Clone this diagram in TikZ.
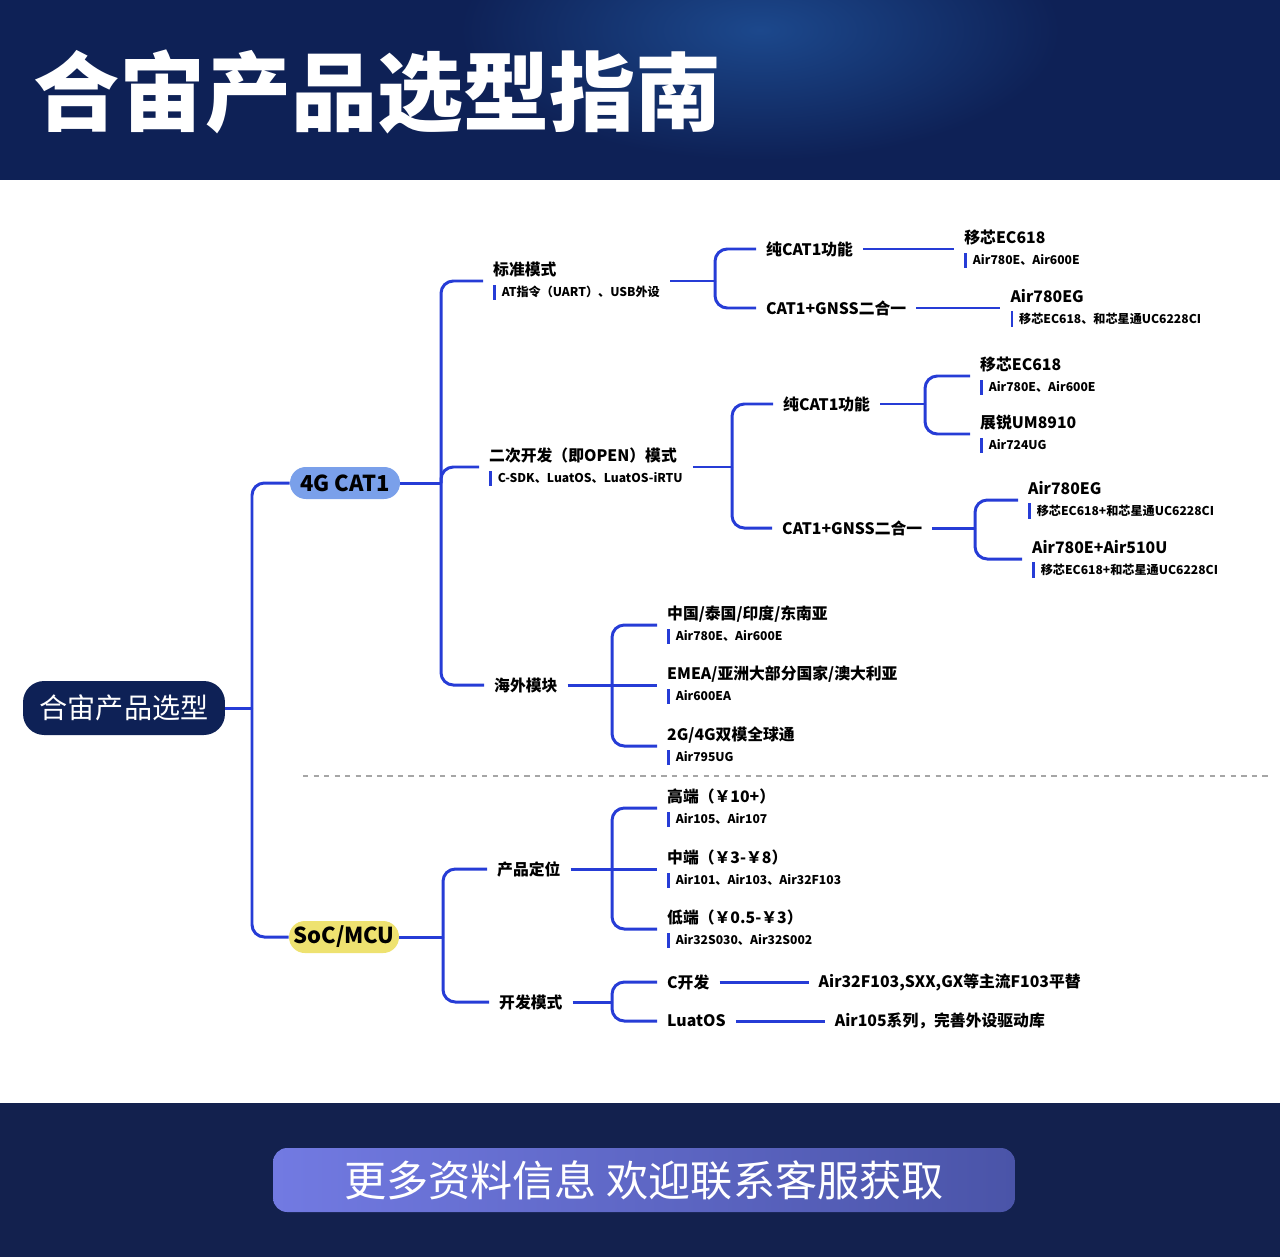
\documentclass[tikz,border=0pt]{standalone}
\usepackage{fontspec}
\setmainfont{Noto Sans CJK SC}
\usepackage{xcolor}
\usetikzlibrary{positioning}

\definecolor{navy}{RGB}{14,33,86}
\definecolor{glow}{RGB}{28,72,140}
\definecolor{footnavy}{RGB}{19,33,78}
\definecolor{linkblue}{RGB}{38,60,214}
\definecolor{catblue}{RGB}{122,160,234}
\definecolor{socyellow}{RGB}{238,226,112}
\definecolor{btnleft}{RGB}{114,122,226}
\definecolor{btnright}{RGB}{74,84,168}

\newcommand{\modeltxt}[1]{{\fontsize{6.9}{9}\selectfont{\color{linkblue}\rule[-0.25em]{1.4pt}{1.25em}}\hspace{3.5pt}#1}}

\tikzset{
    link/.style={draw=linkblue, line width=1.7pt, rounded corners=7pt},
    item/.style={anchor=west, align=left, inner xsep=5.6pt, inner ysep=1pt, font=\bfseries\fontsize{9}{12}\selectfont},
    leaf/.style={anchor=west, inner xsep=5.6pt, inner ysep=1pt, font=\bfseries\fontsize{9}{11}\selectfont},
    rootbox/.style={fill=navy, text=white, rounded corners=12pt, minimum width=4.04cm, minimum height=1.08cm, inner sep=0, font=\fontsize{16}{18}\selectfont},
    catbox/.style={rounded corners=9pt, minimum width=2.2cm, minimum height=0.64cm, inner sep=0, font=\bfseries\fontsize{12.5}{14}\selectfont}
}

\begin{document}
\begin{tikzpicture}[x=0.02cm, y=-0.02cm, node distance=1.8cm]
    \useasboundingbox (0,0) rectangle (1280,1257);

    % header and footer
    \fill[navy] (0,0) rectangle (1280,180);
    \begin{scope}
        \clip (0,0) rectangle (1280,176);
        \shade[inner color=glow, outer color=navy] (760,30) ellipse [x radius=6cm, y radius=2.6cm];
    \end{scope}
    \fill[footnavy] (0,1103) rectangle (1280,1257);
    \node[anchor=west, inner sep=0, text=white, font=\bfseries\fontsize{49}{55}\selectfont] (title) at (33,92) {合宙产品选型指南};
    \node[left color=btnleft, right color=btnright, rounded corners=8pt, minimum width=14.84cm, minimum height=1.28cm, inner sep=0, text=white, font=\fontsize{24}{28}\selectfont] (more) at (644,1180) {更多资料信息 欢迎联系客服获取};

    % root and main branches
    \node[rootbox] (root) at (124,708) {合宙产品选型};
    \node[catbox, fill=catblue] (cat1) at (345,483) {4G CAT1};
    \node[catbox, fill=socyellow] (soc) at (344,937) {SoC/MCU};

    % 4G CAT1
    \node[item] (std) at (483,281) {标准模式\\\modeltxt{AT指令（UART）、USB外设}};
    \node[item] (open) at (479,467) {二次开发（即OPEN）模式\\\modeltxt{C-SDK、LuatOS、LuatOS-iRTU}};
    \node[leaf] (hw) at (484,685) {海外模块};

    \node[leaf] (pure1) at (756,249) {纯CAT1功能};
    \node[leaf] (gnss1) at (756,308) {CAT1+GNSS二合一};
    \node[item, right=1.82cm of pure1.east, anchor=west] (ec618a) {移芯EC618\\\modeltxt{Air780E、Air600E}};
    \node[item, right=1.68cm of gnss1.east, anchor=west] (eg1) {Air780EG\\\modeltxt{移芯EC618、和芯星通UC6228CI}};

    \node[leaf] (pure2) at (773,404) {纯CAT1功能};
    \node[leaf] (gnss2) at (772,528) {CAT1+GNSS二合一};
    \node[item] (ec618b) at (970,376) {移芯EC618\\\modeltxt{Air780E、Air600E}};
    \node[item] (um8910) at (970,434) {展锐UM8910\\\modeltxt{Air724UG}};
    \node[item] (eg2) at (1018,500) {Air780EG\\\modeltxt{移芯EC618+和芯星通UC6228CI}};
    \node[item] (a510u) at (1022,559) {Air780E+Air510U\\\modeltxt{移芯EC618+和芯星通UC6228CI}};

    \node[item] (cn) at (657,625) {中国/泰国/印度/东南亚\\\modeltxt{Air780E、Air600E}};
    \node[item] (emea) at (657,685) {EMEA/亚洲大部分国家/澳大利亚\\\modeltxt{Air600EA}};
    \node[item] (dual) at (657,746) {2G/4G双模全球通\\\modeltxt{Air795UG}};

    % SoC/MCU
    \node[leaf] (pos) at (487,869) {产品定位};
    \node[leaf] (dev) at (489,1002) {开发模式};
    \node[item] (high) at (657,808) {高端（￥10+）\\\modeltxt{Air105、Air107}};
    \node[item] (mid) at (657,869) {中端（￥3-￥8）\\\modeltxt{Air101、Air103、Air32F103}};
    \node[item] (low) at (657,929) {低端（￥0.5-￥3）\\\modeltxt{Air32S030、Air32S002}};
    \node[leaf] (cdev) at (657,982) {C开发};
    \node[leaf] (luatos) at (657,1021) {LuatOS};
    \node[leaf, right=1.78cm of cdev.east, anchor=west] (cnote) {Air32F103,SXX,GX等主流F103平替};
    \node[leaf, right=1.78cm of luatos.east, anchor=west] (lnote) {Air105系列，完善外设驱动库};

    % forks
    \coordinate (f0) at (252,708);
    \coordinate (f1) at (441,483);
    \coordinate (f2) at (715,281);
    \coordinate (f3) at (732,467);
    \coordinate (f4) at (925,404);
    \coordinate (f5) at (975,528);
    \coordinate (f6) at (612,685);
    \coordinate (f7) at (443,937);
    \coordinate (f8) at (612,869);
    \coordinate (f9) at (612,1002);

    % connectors
    \draw[link] (root) -- (f0);
    \draw[link] (f0) |- (cat1);
    \draw[link] (f0) |- (soc);

    \draw[link] (cat1) -- (f1);
    \draw[link] (f1) |- (std.west);
    \draw[link] (f1) |- (open.west);
    \draw[link] (f1) |- (hw.west);

    \draw[link] (std.east) -- (f2);
    \draw[link] (f2) |- (pure1.west);
    \draw[link] (f2) |- (gnss1.west);
    \draw[link] (pure1) -- (ec618a);
    \draw[link] (gnss1) -- (eg1);

    \draw[link] (open.east) -- (f3);
    \draw[link] (f3) |- (pure2.west);
    \draw[link] (f3) |- (gnss2.west);
    \draw[link] (pure2) -- (f4);
    \draw[link] (f4) |- (ec618b.west);
    \draw[link] (f4) |- (um8910.west);
    \draw[link] (gnss2) -- (f5);
    \draw[link] (f5) |- (eg2.west);
    \draw[link] (f5) |- (a510u.west);

    \draw[link] (hw) -- (f6);
    \draw[link] (f6) |- (cn.west);
    \draw[link] (f6) -- (emea.west);
    \draw[link] (f6) |- (dual.west);

    \draw[link] (soc) -- (f7);
    \draw[link] (f7) |- (pos.west);
    \draw[link] (f7) |- (dev.west);
    \draw[link] (pos) -- (f8);
    \draw[link] (f8) |- (high.west);
    \draw[link] (f8) -- (mid.west);
    \draw[link] (f8) |- (low.west);
    \draw[link] (dev) -- (f9);
    \draw[link] (f9) |- (cdev.west);
    \draw[link] (f9) |- (luatos.west);
    \draw[link] (cdev) -- (cnote);
    \draw[link] (luatos) -- (lnote);

    % divider
    \draw[gray!70, dashed, line width=0.6pt] (303,776) -- (1270,776);
\end{tikzpicture}
\end{document}
